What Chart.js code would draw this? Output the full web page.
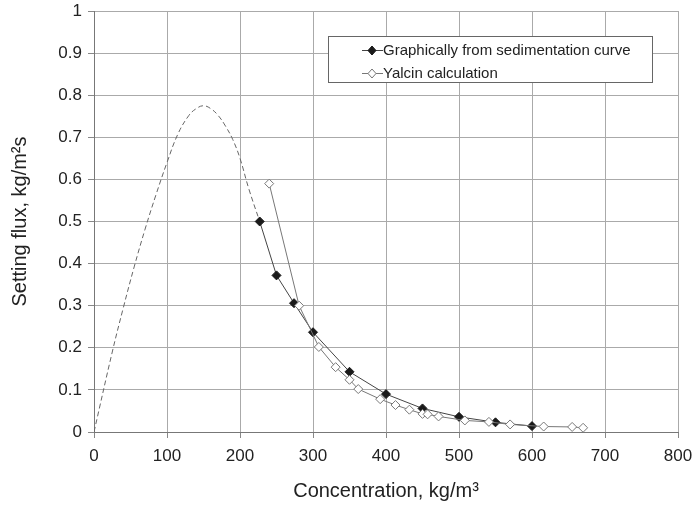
<!DOCTYPE html>
<html>
<head>
<meta charset="utf-8">
<script src="https://cdn.jsdelivr.net/npm/chart.js@4/dist/chart.umd.min.js"></script>
<style>
  html, body { margin: 0; padding: 0; background: #fff; }
  #wrap { width: 695px; height: 507px; }
</style>
</head>
<body>
<div id="wrap"><canvas id="fluxChart" width="695" height="507"></canvas></div>
<script>
// graphical values
var graphConc = [227, 250, 274, 300, 350, 400, 450, 500, 550, 600];
var graphFlux = [0.5, 0.372, 0.306, 0.237, 0.143, 0.09, 0.056, 0.036, 0.023, 0.014];

// Yalcin calculation
var yalcinConc = [240, 281, 308, 331, 350, 362, 392, 413, 432, 450, 457, 472, 508, 541, 570, 616, 655, 670];
var yalcinFlux = [0.59, 0.30, 0.202, 0.154, 0.124, 0.102, 0.078, 0.064, 0.053, 0.043, 0.042, 0.037, 0.0275, 0.024, 0.018, 0.013, 0.012, 0.010];

// extrapolated flux curve (dashed)
var curveConc = [0, 25, 40, 55, 70, 85, 100, 115, 130, 140, 150, 160, 170, 180, 190, 200, 212, 227];
var curveFlux = [0, 0.19, 0.294, 0.392, 0.482, 0.564, 0.64, 0.708, 0.752, 0.768, 0.775, 0.768, 0.752, 0.727, 0.695, 0.65, 0.578, 0.5];

var legendLabels = ["Graphically from sedimentation curve", "Yalcin calculation"];

var FONT = "'Liberation Sans', Arial, sans-serif";

function pts(xs, ys) {
    var out = [];
    for (let i = 0; i < xs.length; i++) {
        out.push({ x: xs[i], y: ys[i] });
    }
    return out;
}

// boxed legend in the upper right
var boxLegend = {
    id: 'boxLegend',
    afterDraw: function (chart) {
        var ctx = chart.ctx;
        ctx.save();
        ctx.fillStyle = '#fff';
        ctx.fillRect(328.5, 36.5, 324, 46);
        ctx.strokeStyle = '#666';
        ctx.lineWidth = 1;
        ctx.strokeRect(328.5, 36.5, 324, 46);

        var rows = [50, 73];
        for (let i = 0; i < rows.length; i++) {
            var y = rows[i];
            ctx.strokeStyle = i == 0 ? '#444' : '#777';
            ctx.beginPath();
            ctx.moveTo(362, y + 0.5);
            ctx.lineTo(383, y + 0.5);
            ctx.stroke();
            // diamond marker
            ctx.beginPath();
            ctx.moveTo(372, y - 4);
            ctx.lineTo(376, y + 0.5);
            ctx.lineTo(372, y + 5);
            ctx.lineTo(368, y + 0.5);
            ctx.closePath();
            ctx.fillStyle = i == 0 ? '#1a1a1a' : '#fff';
            ctx.fill();
            ctx.strokeStyle = i == 0 ? '#1a1a1a' : '#777';
            ctx.stroke();

            ctx.fillStyle = '#222';
            ctx.font = '15px ' + FONT;
            ctx.textBaseline = 'middle';
            ctx.fillText(legendLabels[i], 383, y + 1);
        }
        ctx.restore();
    }
};

var ctx = document.getElementById('fluxChart').getContext('2d');
var chart = new Chart(ctx, {
    type: 'scatter',
    data: {
        datasets: [{
            label: legendLabels[1],
            data: pts(yalcinConc, yalcinFlux),
            showLine: true,
            borderColor: '#777',
            borderWidth: 1,
            pointStyle: 'rectRot',
            pointRadius: 4.5,
            pointBackgroundColor: '#fff',
            pointBorderColor: '#777',
            pointBorderWidth: 1,
            order: 0
        }, {
            label: legendLabels[0],
            data: pts(graphConc, graphFlux),
            showLine: true,
            borderColor: '#444',
            borderWidth: 1,
            pointStyle: 'rectRot',
            pointRadius: 4.5,
            pointBackgroundColor: '#1a1a1a',
            pointBorderColor: '#1a1a1a',
            order: 1
        }, {
            label: 'curve',
            data: pts(curveConc, curveFlux),
            showLine: true,
            borderColor: '#666',
            borderWidth: 1,
            borderDash: [5, 3],
            pointRadius: 0,
            tension: 0.4,
            order: 2
        }]
    },
    options: {
        responsive: false,
        animation: false,
        layout: { padding: { left: 0, top: 11, right: 17, bottom: 2 } },
        plugins: {
            legend: { display: false },
            tooltip: { enabled: false }
        },
        scales: {
            x: {
                type: 'linear',
                min: 0,
                max: 800,
                ticks: {
                    stepSize: 100,
                    color: '#222',
                    font: { family: FONT, size: 17 },
                    padding: 8
                },
                grid: { color: '#aaa', tickLength: 6, tickColor: '#888' },
                border: { color: '#777' },
                title: {
                    display: true,
                    text: 'Concentration, kg/m³',
                    color: '#222',
                    font: { family: FONT, size: 20 },
                    padding: { top: 6, bottom: 2 }
                },
                afterFit: function (scale) {
                    scale.height = 73;
                    // let the 800 label run past the edge
                    scale.paddingLeft = 0;
                    scale.paddingRight = 0;
                }
            },
            y: {
                min: 0,
                max: 1,
                ticks: {
                    stepSize: 0.1,
                    color: '#222',
                    font: { family: FONT, size: 17 },
                    padding: 6,
                    callback: function (v) { return Number(v.toFixed(1)).toString(); }
                },
                grid: { color: '#aaa', tickLength: 6, tickColor: '#888' },
                border: { color: '#777' },
                title: {
                    display: true,
                    text: 'Setting flux, kg/m²s',
                    color: '#222',
                    font: { family: FONT, size: 20 },
                    padding: { top: 8, bottom: 4 }
                },
                afterFit: function (scale) {
                    scale.width = 94;
                    scale.paddingTop = 0;
                    scale.paddingBottom = 0;
                }
            }
        }
    },
    plugins: [boxLegend]
});
</script>
</body>
</html>
